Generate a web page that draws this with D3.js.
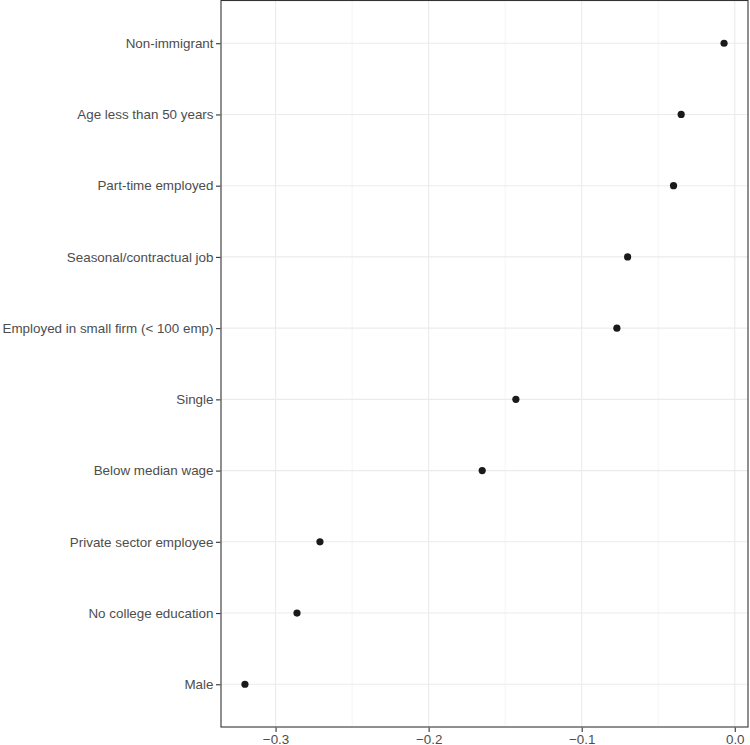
<!DOCTYPE html>
<html>
<head>
<meta charset="utf-8">
<script src="https://cdn.jsdelivr.net/npm/d3@7"></script>
<style>
  body { margin: 0; background: #fff; }
  text { font-family: "Liberation Sans", Arial, Helvetica, sans-serif; }
</style>
</head>
<body>
<svg width="750" height="745"></svg>
<script>
// Categories, top to bottom
var categories = [
  "Non-immigrant",
  "Age less than 50 years",
  "Part-time employed",
  "Seasonal/contractual job",
  "Employed in small firm (< 100 emp)",
  "Single",
  "Below median wage",
  "Private sector employee",
  "No college education",
  "Male"
];

// Estimated effects, same order
var effects = [-0.007, -0.035, -0.040, -0.070, -0.077, -0.143, -0.165, -0.271, -0.286, -0.320];

var xTicks = [-0.3, -0.2, -0.1, 0.0];
var xMinor = [-0.25, -0.15, -0.05];

// Panel geometry
var PANEL_LEFT = 221;
var PANEL_RIGHT = 748;
var PANEL_TOP = 0.5;
var PANEL_BOTTOM = 727;
var DOT_RADIUS = 3.6;
var TICK_LEN = 4.5;
var FONT_SIZE = "13.4px";

var svg = d3.select("svg");

// ggplot style 5% expansion on the continuous axis
var ext = d3.extent(effects);
var pad = (ext[1] - ext[0]) * 0.05;
var x = d3.scaleLinear()
  .domain([ext[0] - pad, ext[1] + pad])
  .range([PANEL_LEFT, PANEL_RIGHT]);

// discrete axis with 0.6 unit expansion each side
var step = (PANEL_BOTTOM - PANEL_TOP) / (categories.length - 1 + 1.2);
var y = d3.scalePoint()
  .domain(categories)
  .range([PANEL_TOP + 0.6 * step, PANEL_BOTTOM - 0.6 * step]);

var g = svg.append("g");

// Minor gridlines
g.append("g").selectAll("line")
  .data(xMinor)
  .enter().append("line")
  .attr("x1", d => x(d)).attr("x2", d => x(d))
  .attr("y1", PANEL_TOP).attr("y2", PANEL_BOTTOM)
  .attr("stroke", "#EBEBEB").attr("stroke-width", 0.55);

// Major gridlines (x)
g.append("g").selectAll("line")
  .data(xTicks)
  .enter().append("line")
  .attr("x1", d => x(d)).attr("x2", d => x(d))
  .attr("y1", PANEL_TOP).attr("y2", PANEL_BOTTOM)
  .attr("stroke", "#EBEBEB").attr("stroke-width", 1.1);

// Major gridlines (y)
g.append("g").selectAll("line")
  .data(categories)
  .enter().append("line")
  .attr("x1", PANEL_LEFT).attr("x2", PANEL_RIGHT)
  .attr("y1", d => y(d)).attr("y2", d => y(d))
  .attr("stroke", "#EBEBEB").attr("stroke-width", 1.1);

// Points
g.append("g").selectAll("circle")
  .data(categories)
  .enter().append("circle")
  .attr("cx", (d, i) => x(effects[i]))
  .attr("cy", d => y(d))
  .attr("r", DOT_RADIUS)
  .attr("fill", "#1a1a1a");

// Panel border
g.append("rect")
  .attr("x", PANEL_LEFT).attr("y", PANEL_TOP)
  .attr("width", PANEL_RIGHT - PANEL_LEFT)
  .attr("height", PANEL_BOTTOM - PANEL_TOP)
  .attr("fill", "none")
  .attr("stroke", "#333333").attr("stroke-width", 1.1);

// Y axis
var yAxis = d3.axisLeft(y).tickSize(TICK_LEN).tickPadding(2.5);
var ya = svg.append("g")
  .attr("transform", "translate(" + (PANEL_LEFT - 0.5) + ",0)")
  .call(yAxis);
ya.select(".domain").remove();
ya.selectAll(".tick line").attr("stroke", "#333333").attr("stroke-width", 1.1);
ya.selectAll(".tick text")
  .attr("fill", "#4D4D4D")
  .style("font-size", FONT_SIZE);

// X axis
var xAxis = d3.axisBottom(x)
  .tickValues(xTicks)
  .tickSize(TICK_LEN)
  .tickPadding(2.5)
  .tickFormat(d3.format(".1f"));
var xa = svg.append("g")
  .attr("transform", "translate(0," + (PANEL_BOTTOM + 0.5) + ")")
  .call(xAxis);
xa.select(".domain").remove();
xa.selectAll(".tick line").attr("stroke", "#333333").attr("stroke-width", 1.1);
xa.selectAll(".tick text")
  .attr("fill", "#4D4D4D")
  .style("font-size", FONT_SIZE);
</script>
</body>
</html>
